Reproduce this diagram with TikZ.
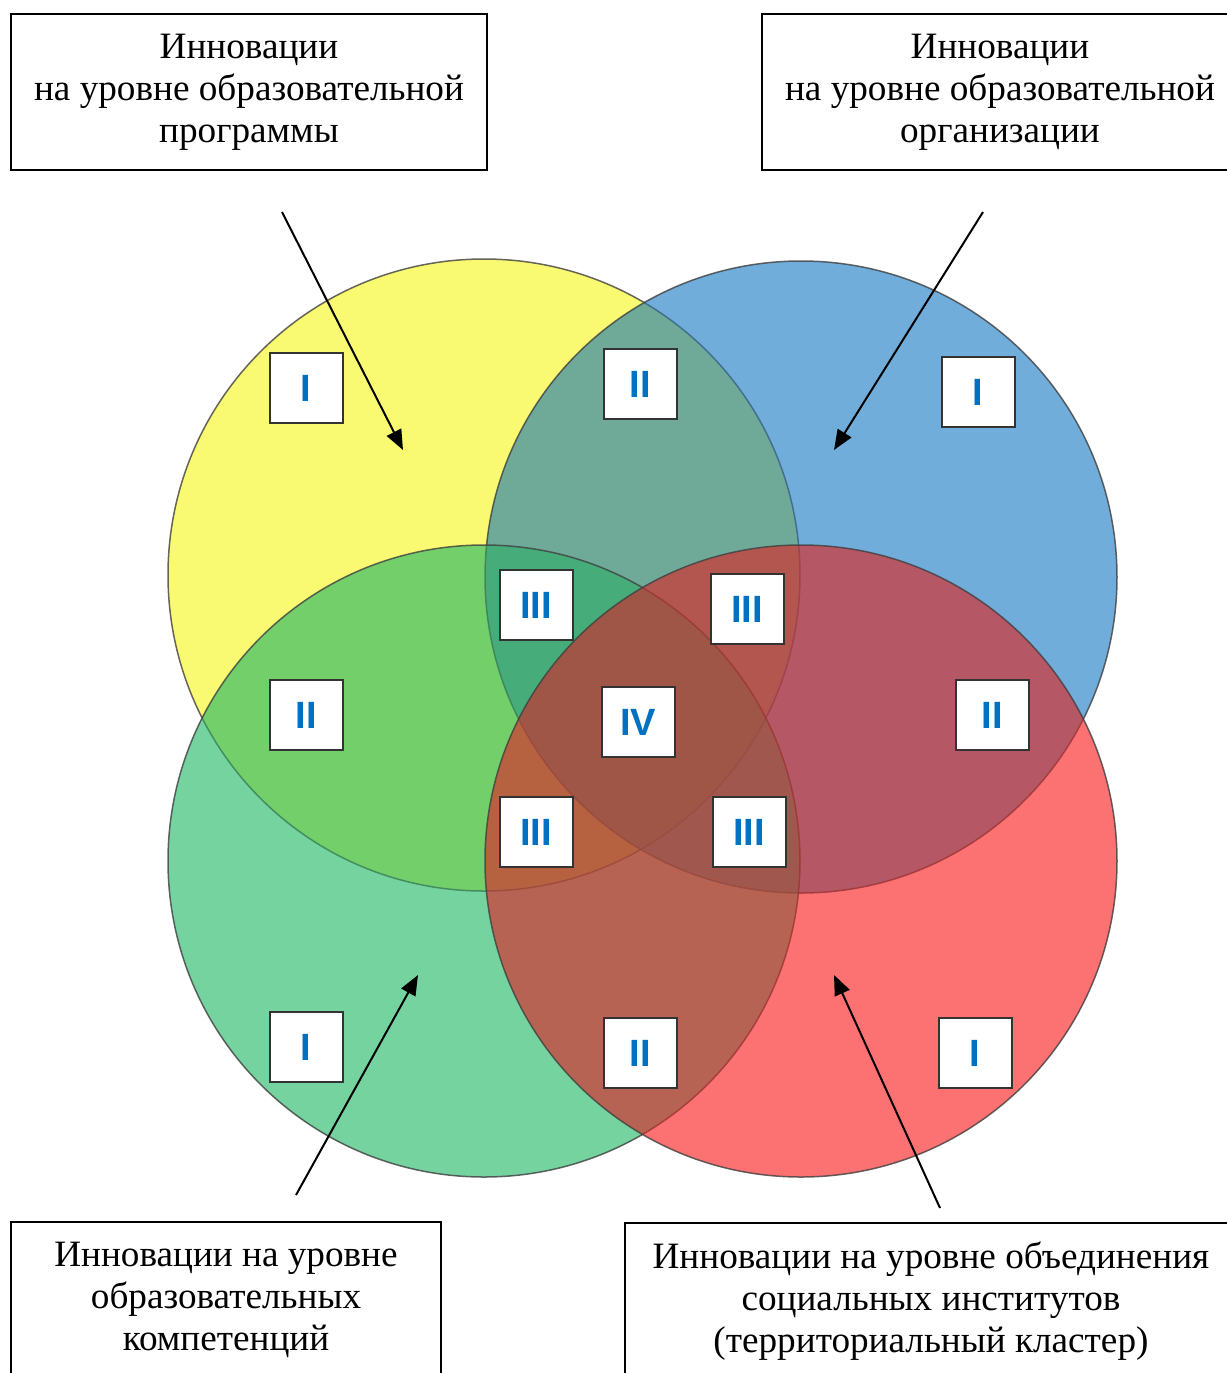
\documentclass[tikz,border=0pt]{standalone}
\usepackage{fontspec}
\setmainfont{Liberation Serif}
\newfontfamily\markfont{Liberation Sans}
\usepackage{tikz}
\usetikzlibrary{arrows.meta}
\definecolor{vennyellow}{RGB}{248,248,68}
\definecolor{vennblue}{RGB}{67,146,206}
\definecolor{venngreen}{RGB}{72,196,128}
\definecolor{vennred}{RGB}{251,67,67}
\definecolor{markblue}{RGB}{0,112,192}
\tikzset{circle style/.style={
		preaction={fill=#1, fill opacity=0.5, blend mode=multiply},
		draw=black!75,
		line width=0.75pt,
		fill=#1,
		fill opacity=0.5,
		draw opacity=0.8,
	},
	label style/.style={
		draw=black,
		line width=1pt,
		fill=white,
		rectangle,
		align=center,
		inner sep=0pt,
		minimum height=78pt,
		font=\fontsize{18.6}{21}\selectfont,
	},
	mark style/.style={
		draw=black!80,
		line width=1pt,
		fill=white,
		rectangle,
		minimum width=36.5pt,
		minimum height=35pt,
		inner sep=0pt,
		text=markblue,
		font=\markfont\bfseries\fontsize{19}{19}\selectfont,
	},
	arrow style/.style={
		-{Triangle[length=10pt,width=8pt]},
		line width=1pt,
		draw=black
	}
}

\begin{document}
\begin{tikzpicture}[x=0.5pt,y=-0.5pt]
	\useasboundingbox (0,0) rectangle (1227,1373);
	
	% the four circles
	\draw[circle style=vennyellow] (484,575) circle (316);
	\draw[circle style=vennblue] (801,577) circle (316);
	\draw[circle style=venngreen] (484,861) circle (316);
	\draw[circle style=vennred] (801,861) circle (316);
	
	% level labels
	\node[label style, minimum width=238pt] (ProgLabel) at (249,92) {Инновации\\на уровне образовательной\\программы};
	\node[label style, minimum width=238pt] (OrgLabel) at (1000,92) {Инновации\\на уровне образовательной\\организации};
	\node[label style, minimum width=215pt] (CompLabel) at (226,1300) {Инновации на уровне\\образовательных\\компетенций};
	\node[label style, minimum width=306pt] (ClusterLabel) at (931,1301) {Инновации на уровне объединения\\социальных институтов\\(территориальный кластер)};
	
	% marks
	\node[mark style] (YellowOne) at (306,388) {I};
	\node[mark style] (TopTwo) at (640,384) {II};
	\node[mark style] (BlueOne) at (978,392) {I};
	\node[mark style] (UpLeftThree) at (536,605) {III};
	\node[mark style] (UpRightThree) at (747,609) {III};
	\node[mark style] (LeftTwo) at (306,715) {II};
	\node[mark style] (CenterFour) at (638,722) {IV};
	\node[mark style] (RightTwo) at (992,715) {II};
	\node[mark style] (LowLeftThree) at (536,832) {III};
	\node[mark style] (LowRightThree) at (749,832) {III};
	\node[mark style] (GreenOne) at (306,1047) {I};
	\node[mark style] (BottomTwo) at (640,1053) {II};
	\node[mark style] (RedOne) at (975,1053) {I};
	
	% arrows
	\coordinate (ProgStart) at (282,212);
	\coordinate (ProgEnd) at (403,450);
	\coordinate (OrgStart) at (983,212);
	\coordinate (OrgEnd) at (834,450);
	\coordinate (CompStart) at (296,1195);
	\coordinate (CompEnd) at (418,975);
	\coordinate (ClusterStart) at (940,1208);
	\coordinate (ClusterEnd) at (834,975);
	\draw[arrow style] (ProgStart) -- (ProgEnd);
	\draw[arrow style] (OrgStart) -- (OrgEnd);
	\draw[arrow style] (CompStart) -- (CompEnd);
	\draw[arrow style] (ClusterStart) -- (ClusterEnd);
\end{tikzpicture}
\end{document}
